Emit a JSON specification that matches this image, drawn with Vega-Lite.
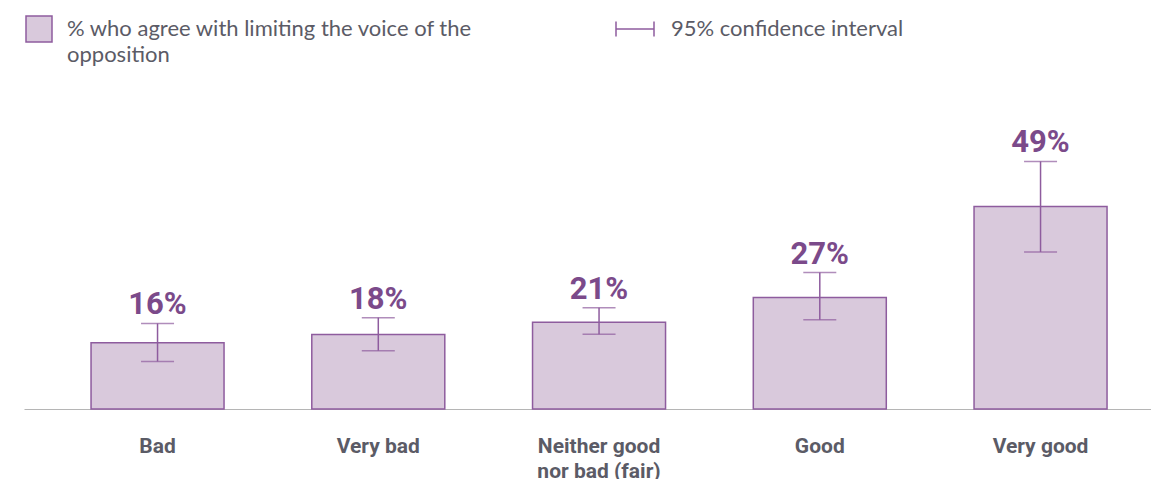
{
  "$schema": "https://vega.github.io/schema/vega-lite/v6.json",
  "width": 1127,
  "height": 310,
  "autosize": {"type": "none"},
  "padding": {"left": 24, "top": 99, "right": 0, "bottom": 70},
  "background": "white",
  "config": {"view": {"stroke": null}, "font": "Roboto"},
  "data": {
    "values": [
      {"cat": "Bad", "value": 0.16, "lo": 0.115, "hi": 0.207, "series": "% who agree with limiting the voice of the|opposition", "ci": "95% confidence interval"},
      {"cat": "Very bad", "value": 0.18, "lo": 0.141, "hi": 0.221, "series": "% who agree with limiting the voice of the|opposition", "ci": "95% confidence interval"},
      {"cat": "Neither good nor bad (fair)", "value": 0.21, "lo": 0.181, "hi": 0.245, "series": "% who agree with limiting the voice of the|opposition", "ci": "95% confidence interval"},
      {"cat": "Good", "value": 0.27, "lo": 0.216, "hi": 0.33, "series": "% who agree with limiting the voice of the|opposition", "ci": "95% confidence interval"},
      {"cat": "Very good", "value": 0.49, "lo": 0.38, "hi": 0.599, "series": "% who agree with limiting the voice of the|opposition", "ci": "95% confidence interval"}
    ]
  },
  "encoding": {
    "x": {
      "field": "cat",
      "type": "nominal",
      "sort": null,
      "title": null,
      "scale": {"paddingInner": 0.3975, "paddingOuter": 0.2514, "align": 0.604},
      "axis": {
        "domain": true,
        "domainColor": "#b5b5b5",
        "domainWidth": 1.2,
        "ticks": false,
        "labelAngle": 0,
        "labelFont": "Roboto",
        "labelFontWeight": "bold",
        "labelFontSize": 21,
        "labelColor": "#5b5b66",
        "labelPadding": 26,
        "labelBaseline": "top",
        "labelLineHeight": 25,
        "labelExpr": "datum.value == 'Neither good nor bad (fair)' ? ['Neither good', 'nor bad (fair)'] : datum.value"
      }
    }
  },
  "layer": [
    {
      "mark": {"type": "bar", "stroke": "#8e5c9e", "strokeWidth": 1.5},
      "encoding": {
        "y": {"field": "value", "type": "quantitative", "scale": {"domain": [0, 0.75], "nice": false}, "axis": null},
        "fill": {
          "field": "series",
          "type": "nominal",
          "scale": {"range": ["#d9c9dc"]},
          "legend": {
            "orient": "none",
            "legendX": 1,
            "legendY": -84,
            "title": null,
            "padding": 0,
            "symbolType": "square",
            "symbolSize": 676,
            "symbolStrokeColor": "#8e5c9e",
            "symbolStrokeWidth": 1.5,
            "symbolOpacity": 1,
            "labelFont": "Lato",
            "labelFontSize": 22,
            "labelColor": "#5b5b66",
            "labelOffset": 14,
            "labelLimit": 600,
            "labelBaseline": "middle",
            "labelExpr": "split(datum.label, '|')",
            "encode": {"labels": {"update": {"lineHeight": {"value": 26}}}}
          }
        }
      }
    },
    {
      "mark": {"type": "rule", "strokeWidth": 1.5},
      "encoding": {
        "y": {"field": "lo", "type": "quantitative"},
        "y2": {"field": "hi"},
        "stroke": {
          "field": "ci",
          "type": "nominal",
          "scale": {"range": ["#8e5c9e"]},
          "legend": {
            "orient": "none",
            "legendX": 591,
            "legendY": -90,
            "title": null,
            "padding": 0,
            "symbolType": "M-1,-0.4L-1,0.4M-1,0L1,0M1,-0.4L1,0.4",
            "symbolSize": 1444,
            "symbolStrokeWidth": 1.5,
            "labelFont": "Lato",
            "labelFontSize": 22,
            "labelColor": "#5b5b66",
            "labelOffset": 16,
            "labelLimit": 600
          }
        }
      }
    },
    {
      "mark": {"type": "tick", "color": "#8e5c9e", "size": 33, "thickness": 1.5},
      "encoding": {"y": {"field": "lo", "type": "quantitative"}}
    },
    {
      "mark": {"type": "tick", "color": "#8e5c9e", "size": 33, "thickness": 1.5},
      "encoding": {"y": {"field": "hi", "type": "quantitative"}}
    },
    {
      "mark": {"type": "text", "font": "Roboto", "fontWeight": "bold", "fontSize": 31, "color": "#7b4a8a", "baseline": "alphabetic", "dy": -9},
      "encoding": {
        "y": {"field": "hi", "type": "quantitative"},
        "text": {"field": "value", "type": "quantitative", "format": ".0%"}
      }
    }
  ]
}
